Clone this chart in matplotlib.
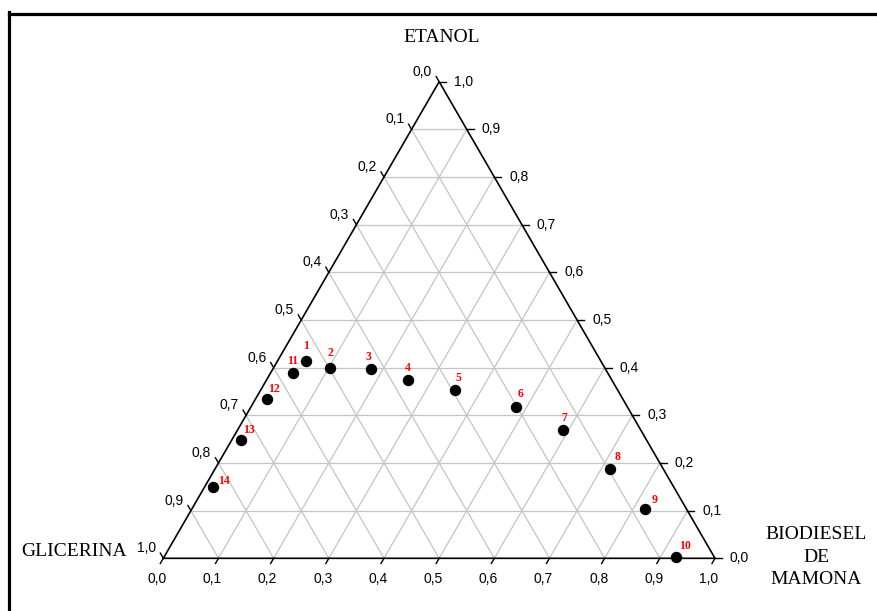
import numpy as np
import matplotlib
matplotlib.use("Agg")
import matplotlib.pyplot as plt
from matplotlib.lines import Line2D

# ---- data (ternary fractions) ----
point_ids = ["1", "2", "3", "4", "5", "6", "7", "8", "9", "10", "11", "12", "13", "14"]
etanol = [0.415, 0.400, 0.398, 0.374, 0.354, 0.317, 0.270, 0.188, 0.104, 0.002,
          0.389, 0.335, 0.248, 0.150]
biodiesel = [0.052, 0.103, 0.177, 0.256, 0.351, 0.480, 0.590, 0.716, 0.822, 0.929,
             0.041, 0.021, 0.016, 0.015]
tick_values = [i / 10 for i in range(11)]

# label offsets in pixels (dx, dy up)
label_offsets = [(0, 15), (0, 15), (-2, 12), (0, 12), (4, 12), (5, 13), (1, 12),
                 (7, 12), (9, 9), (9, 11), (-1, 12), (7, 10), (8, 10), (11, 6)]

W_PX, H_PX = 877, 611
DPI = 100
fig = plt.figure(figsize=(W_PX / DPI, H_PX / DPI), dpi=DPI)
fig.patch.set_facecolor("white")

x0, y0, x1, y1 = 163.3, 558.3, 715.0, 81.7
ax = fig.add_axes([x0 / W_PX, 1 - y0 / H_PX, (x1 - x0) / W_PX, (y0 - y1) / H_PX])
S3 = np.sqrt(3) / 2
ax.set_xlim(0, 1)
ax.set_ylim(0, S3)
ax.axis("off")

def tern(b, e):
    b = np.asarray(b, float)
    e = np.asarray(e, float)
    return b + e / 2, e * S3

grid_kw = dict(color="#c4c4c4", lw=0.9, zorder=1, clip_on=False)
for i in range(1, 10):
    v = i / 10
    # horizontal (constant etanol)
    xa, ya = tern([0, 1 - v], [v, v])
    ax.plot(xa, ya, **grid_kw)
    # constant biodiesel
    xa, ya = tern([v, v], [0, 1 - v])
    ax.plot(xa, ya, **grid_kw)
    # constant glicerina
    xa, ya = tern([1 - v, 0], [0, 1 - v])
    ax.plot(xa, ya, **grid_kw)

# triangle outline
xa, ya = tern([0, 1, 0, 0], [0, 0, 1, 0])
ax.plot(xa, ya, color="black", lw=1.2, zorder=2, clip_on=False)

px = 1.0 / (x1 - x0)  # data units per pixel (x)
tick_len = 6 * px
tick_kw = dict(color="black", lw=1.0, zorder=2, clip_on=False)
lab_kw = dict(fontsize=10, family="Liberation Sans", color="black")

def fmt(v):
    return f"{v:.1f}".replace(".", ",")

for v in tick_values:
    # bottom axis
    bx, by = tern(v, 0)
    ax.plot([bx, bx - 0.5 * tick_len], [by, by - S3 * tick_len], **tick_kw)
    ax.annotate(fmt(v), (bx, by), xytext=(-6, -21), textcoords="offset pixels",
                ha="center", va="center", **lab_kw)
    # left axis (label = 1 - etanol)
    lx, ly = tern(0, v)
    ax.plot([lx, lx - 0.5 * tick_len], [ly, ly + S3 * tick_len], **tick_kw)
    ax.annotate(fmt(1 - v), (lx, ly), xytext=(-17, 10), textcoords="offset pixels",
                ha="center", va="center", **lab_kw)
    # right axis (label = etanol)
    rx, ry = tern(1 - v, v)
    ax.plot([rx, rx + 7 * px], [ry, ry], **tick_kw)
    ax.annotate(fmt(v), (rx, ry), xytext=(15, 0), textcoords="offset pixels",
                ha="left", va="center", **lab_kw)

# data points
xs, ys = tern(biodiesel, etanol)
ax.plot(xs, ys, "o", color="black", ms=7.2, zorder=4, clip_on=False, ls="none")
for pid, x, y, off in zip(point_ids, xs, ys, label_offsets):
    ax.annotate(pid, (x, y), xytext=off, textcoords="offset pixels",
                ha="center", va="center", fontsize=8.5, fontweight="bold",
                family="Liberation Serif", color="red", zorder=5)

# vertex titles
title_kw = dict(fontsize=14, family="Liberation Serif", color="black")
fig.text(442 / W_PX, 1 - 37 / H_PX, "ETANOL", ha="center", va="center", **title_kw)
fig.text(74 / W_PX, 1 - 551 / H_PX, "GLICERINA", ha="center", va="center", **title_kw)
fig.text(816 / W_PX, 1 - 557 / H_PX, "BIODIESEL\nDE\nMAMONA", ha="center", va="center",
         linespacing=1.4, **title_kw)

# frame lines (top and left)
fig.add_artist(Line2D([8.5 / W_PX, 1.0], [1 - 13.5 / H_PX, 1 - 13.5 / H_PX],
                      transform=fig.transFigure, color="black", lw=2.3))
fig.add_artist(Line2D([8.5 / W_PX, 8.5 / W_PX], [0, 1 - 12.3 / H_PX],
                      transform=fig.transFigure, color="black", lw=2.3))

fig.savefig("out.png", dpi=DPI, facecolor="white")
